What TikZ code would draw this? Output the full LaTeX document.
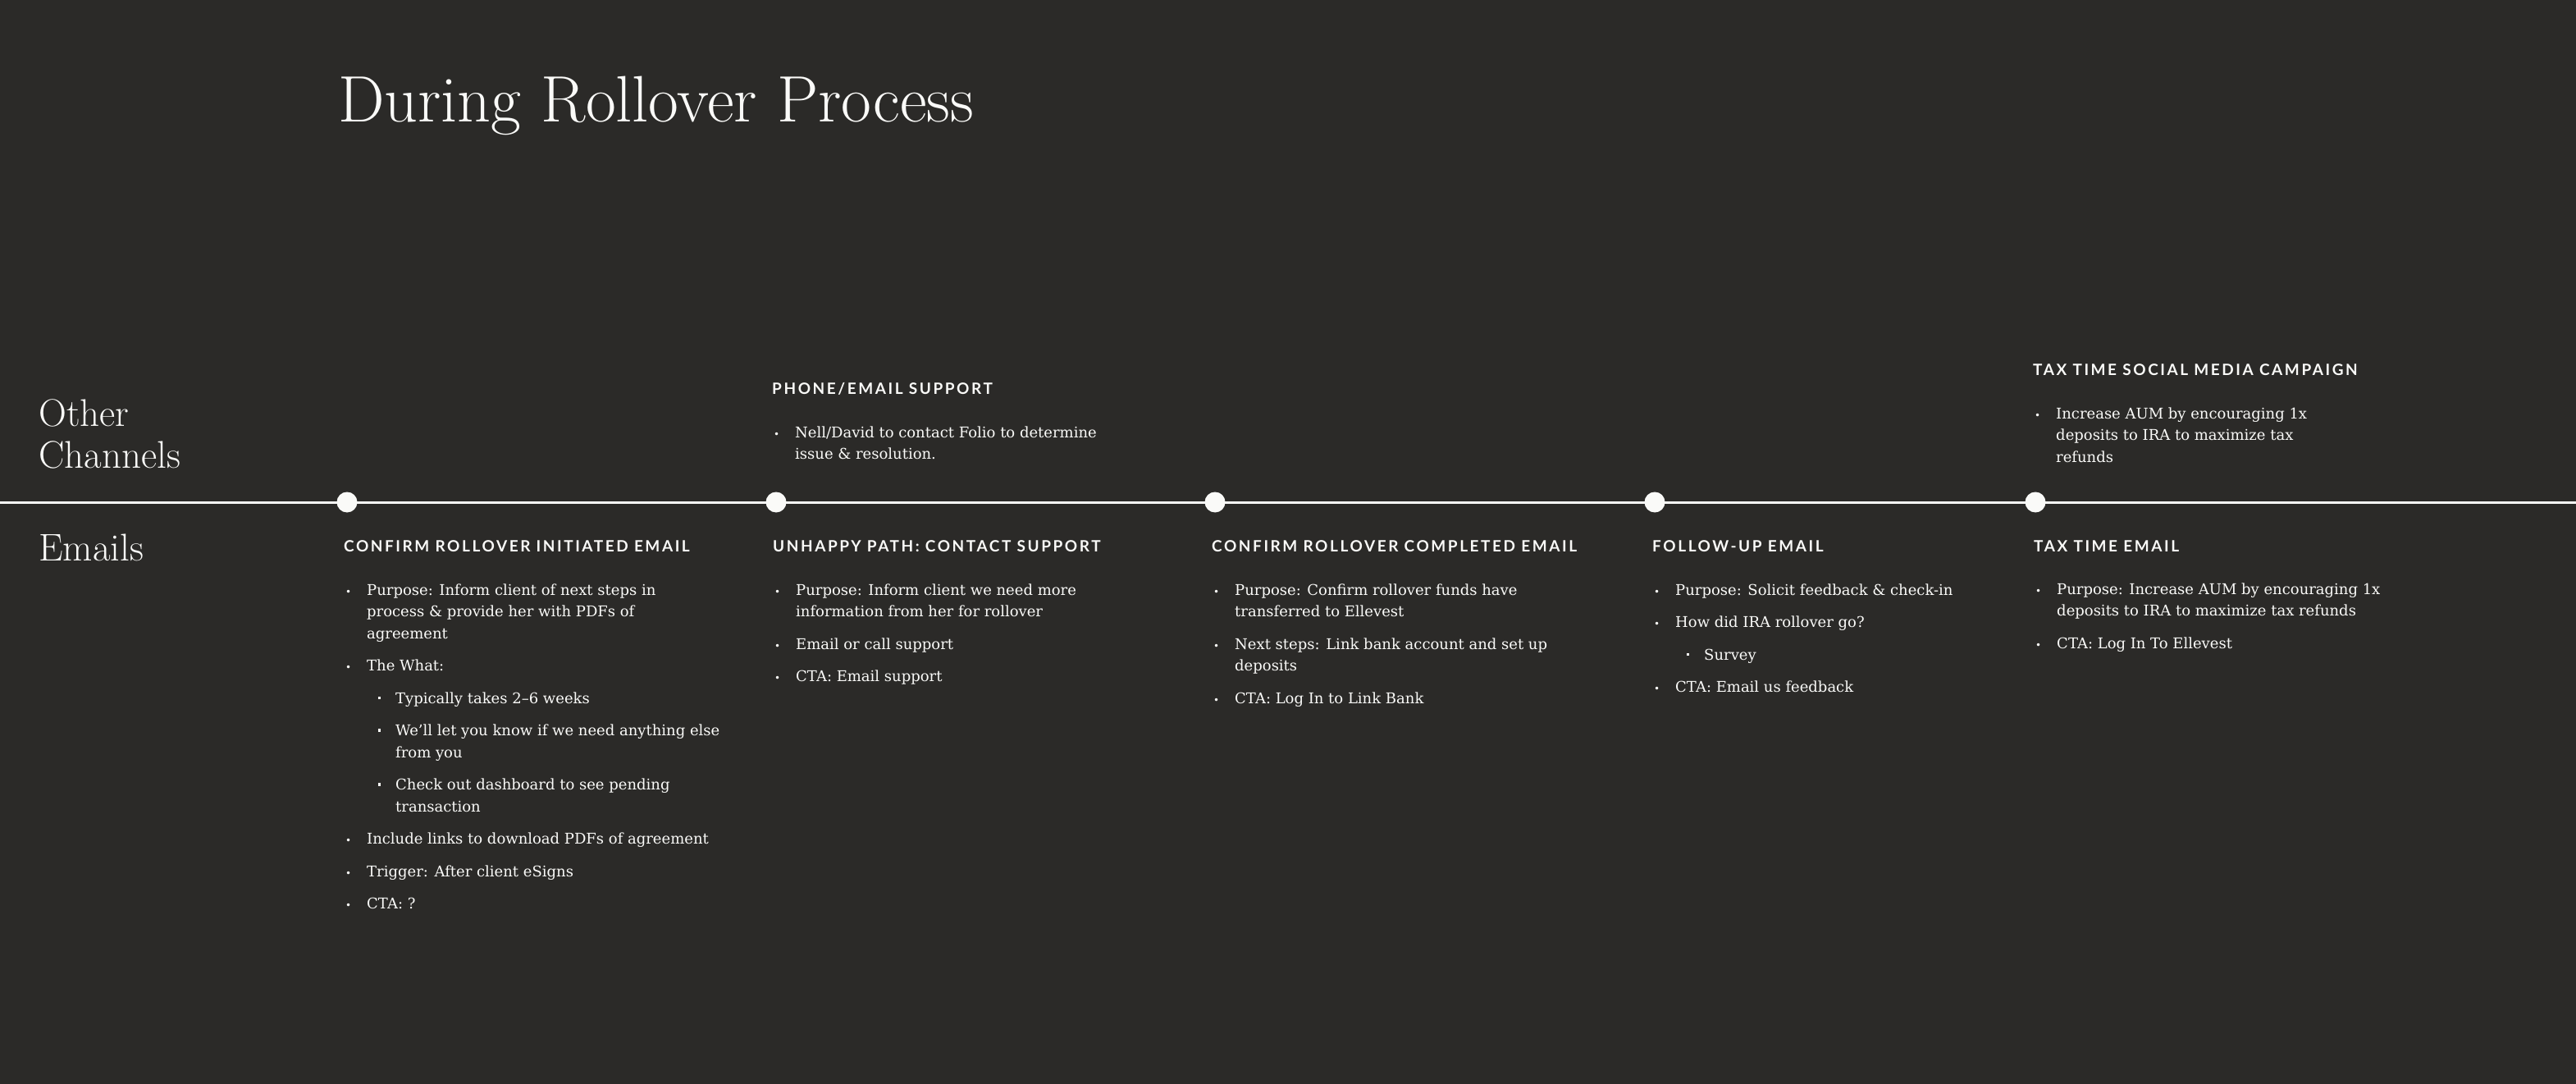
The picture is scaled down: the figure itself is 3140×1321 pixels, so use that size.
\documentclass[tikz,border=0pt]{standalone}
\usepackage{fontspec}
\newfontfamily\bodyfont{DejaVu Serif}
\newfontfamily\headfont{Lato}[LetterSpace=13.5]
\usepackage{tikz}
\usetikzlibrary{calc}
\usetikzlibrary{positioning}

\definecolor{bgdark}{RGB}{43,42,40}
\definecolor{inkwhite}{RGB}{250,250,248}

% bullet lists used in the note boxes
\newenvironment{notelist}{%
  \begin{list}{{\fontsize{12}{12}\selectfont\textbullet}}{%
    \setlength{\leftmargin}{28pt}\setlength{\labelwidth}{9pt}%
    \setlength{\labelsep}{19pt}\setlength{\itemsep}{13pt}%
    \setlength{\parsep}{0pt}\setlength{\topsep}{0pt}\setlength{\partopsep}{0pt}}}%
  {\end{list}}
\newenvironment{subnotelist}{%
  \begin{list}{\raisebox{5pt}{\rule{3.5pt}{3.5pt}}}{%
    \setlength{\leftmargin}{35pt}\setlength{\labelwidth}{17pt}%
    \setlength{\labelsep}{18pt}\setlength{\itemsep}{13pt}%
    \setlength{\parsep}{0pt}\setlength{\topsep}{13pt}\setlength{\partopsep}{0pt}}}%
  {\end{list}}
\newcommand{\notebox}[1]{\begin{minipage}[t]{480pt}\parskip=0pt
    \bodyfont\fontsize{18}{26.5}\selectfont\raggedright
    \begin{notelist}#1\end{notelist}\end{minipage}}

\begin{document}
\begin{tikzpicture}[x=1pt,y=-1pt,
    dot style/.style={circle,fill=inkwhite,minimum size=25pt,inner sep=0pt},
    head style/.style={anchor=base west,inner sep=0pt,text=inkwhite,
      font=\headfont\bfseries\fontsize{19}{23}\selectfont},
    body style/.style={anchor=base west,inner sep=0pt,text=inkwhite},
    lane style/.style={anchor=base west,inner sep=0pt,text=inkwhite,
      font=\fontsize{47}{51}\selectfont},
    title style/.style={anchor=base west,inner sep=0pt,text=inkwhite,
      font=\fontsize{80}{86}\selectfont}
  ]
  \fill[bgdark] (0,0) rectangle (3140,1321);
  \useasboundingbox (0,0) rectangle (3140,1321);

  \node[title style] (title) at (412,149) {During Rollover Process};
  \node[lane style] (other) at (47,519)
    {\begin{minipage}[t]{300pt}Other\\Channels\end{minipage}};
  \node[lane style] (emails) at (47,683) {Emails};

  % timeline
  \coordinate (tl start) at (0,612);
  \coordinate (tl end) at (3140,612);
  \draw[inkwhite,line width=3pt] (tl start) -- (tl end);
  \node[dot style] (d1) at (423,612) {};
  \node[dot style] (d2) at (946,612) {};
  \node[dot style] (d3) at (1481,612) {};
  \node[dot style] (d4) at (2017,612) {};
  \node[dot style] (d5) at (2481,612) {};

  % email lane
  \node[head style] (h1) at ($(d1)+(-4,60)$) {CONFIRM ROLLOVER INITIATED EMAIL};
  \node[body style] (b1) at ($(h1.base west)+(0,53)$) {\notebox{%
      \item Purpose: Inform client of next steps in\\process \& provide her with PDFs of\\agreement
      \item The What:
      \begin{subnotelist}
        \item Typically takes 2–6 weeks
        \item We’ll let you know if we need anything else\\from you
        \item Check out dashboard to see pending\\transaction
      \end{subnotelist}
      \item Include links to download PDFs of agreement
      \item Trigger: After client eSigns
      \item CTA: ?}};

  \node[head style] (h2) at ($(d2)+(-4,60)$) {UNHAPPY PATH: CONTACT SUPPORT};
  \node[body style] (b2) at ($(h2.base west)+(0,53)$) {\notebox{%
      \item Purpose: Inform client we need more\\information from her for rollover
      \item Email or call support
      \item CTA: Email support}};

  \node[head style] (h3) at ($(d3)+(-4,60)$) {CONFIRM ROLLOVER COMPLETED EMAIL};
  \node[body style] (b3) at ($(h3.base west)+(0,53)$) {\notebox{%
      \item Purpose: Confirm rollover funds have\\transferred to Ellevest
      \item Next steps: Link bank account and set up\\deposits
      \item CTA: Log In to Link Bank}};

  \node[head style] (h4) at ($(d4)+(-3,60)$) {FOLLOW-UP EMAIL};
  \node[body style] (b4) at ($(h4.base west)+(0,53)$) {\notebox{%
      \item Purpose: Solicit feedback \& check-in
      \item How did IRA rollover go?
      \begin{subnotelist}
        \item Survey
      \end{subnotelist}
      \item CTA: Email us feedback}};

  \node[head style] (h5) at ($(d5)+(-2,60)$) {TAX TIME EMAIL};
  \node[body style] (b5) at ($(h5.base west)+(0,52)$) {\notebox{%
      \item Purpose: Increase AUM by encouraging 1x\\deposits to IRA to maximize tax refunds
      \item CTA: Log In To Ellevest}};

  % other channels lane
  \node[head style] (oh2) at ($(d2)+(-5,-132)$) {PHONE/EMAIL SUPPORT};
  \node[body style] (ob2) at ($(oh2.base west)+(0,53)$) {\notebox{%
      \item Nell/David to contact Folio to determine\\issue \& resolution.}};

  \node[head style] (oh5) at ($(d5)+(-3,-155)$) {TAX TIME SOCIAL MEDIA CAMPAIGN};
  \node[body style] (ob5) at ($(oh5.base west)+(0,53)$) {\notebox{%
      \item Increase AUM by encouraging 1x\\deposits to IRA to maximize tax\\refunds}};
\end{tikzpicture}
\end{document}
